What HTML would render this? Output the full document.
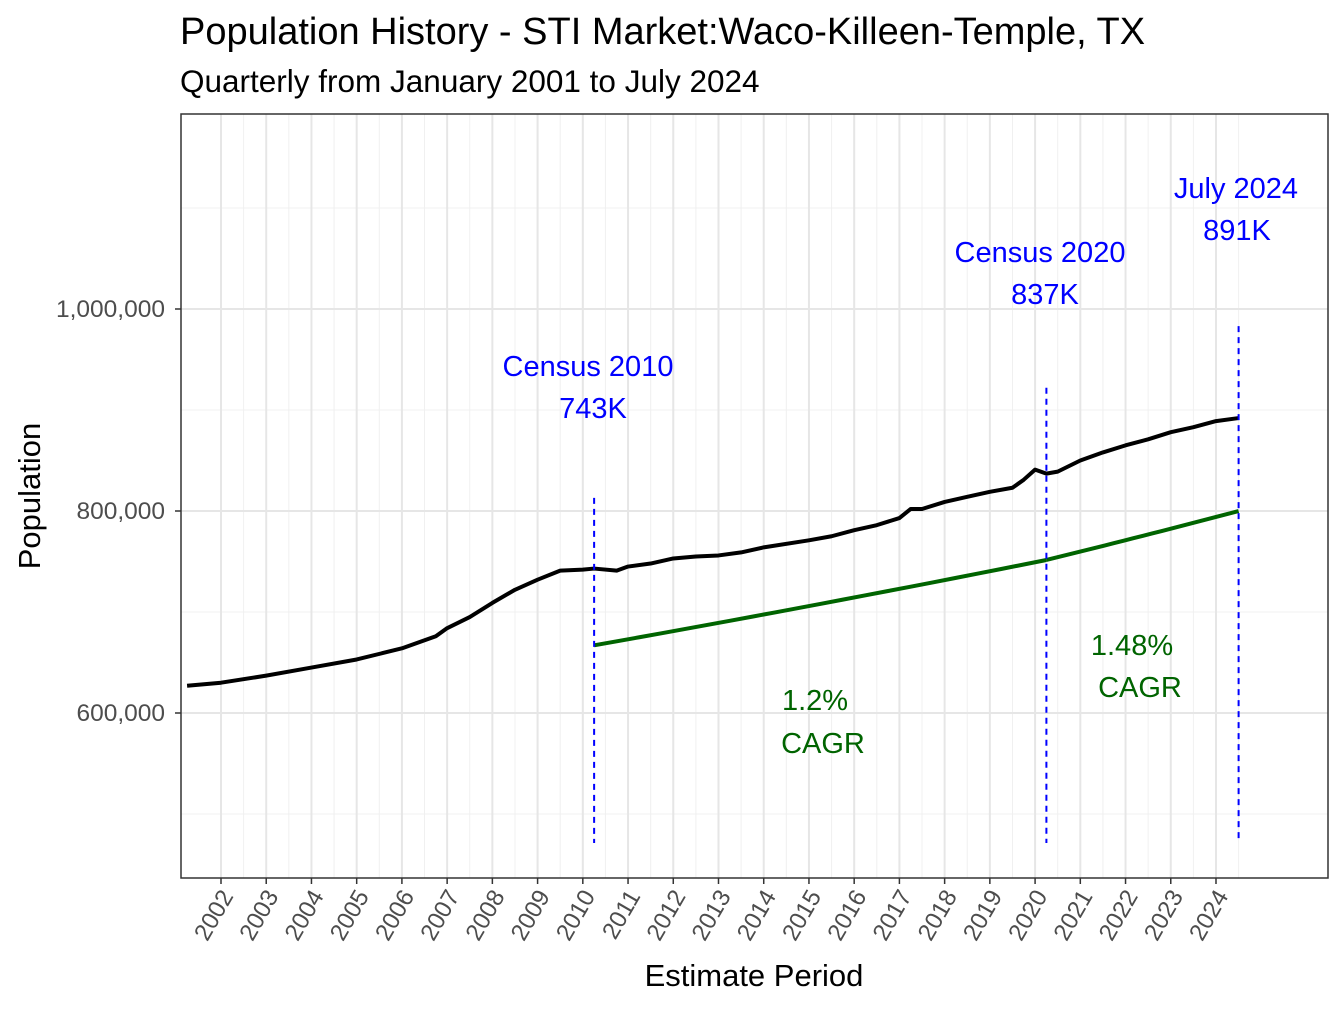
<!DOCTYPE html>
<html><head><meta charset="utf-8"><style>
body{margin:0;background:#fff;}
svg text{font-family:"Liberation Sans",Arial,sans-serif;}
</style></head><body>
<svg id="chart" width="1344" height="1008" xmlns="http://www.w3.org/2000/svg">
<text x="180" y="44" font-size="38" fill="#000">Population History - STI Market:Waco-Killeen-Temple, TX</text>
<text x="180" y="92" font-size="31.5" fill="#000">Quarterly from January 2001 to July 2024</text>
<g id="grid"></g>
<g id="marks"></g>
<rect x="181" y="114" width="1147" height="764" fill="none" stroke="#333" stroke-width="1.5"/>
<g id="axes"></g>
<text x="754" y="986" font-size="31" text-anchor="middle">Estimate Period</text>
<text transform="translate(40,496) rotate(-90)" font-size="31" text-anchor="middle">Population</text>
</svg>
<script>
const years=[2002,2003,2004,2005,2006,2007,2008,2009,2010,2011,2012,2013,2014,2015,2016,2017,2018,2019,2020,2021,2022,2023,2024];
const yTicks=[600000,800000,1000000];
const yTickLabels=["600,000","800,000","1,000,000"];
const yMinor=[500000,700000,900000,1100000];
const popTimes=[2001.25,2002,2003,2004,2005,2006,2006.75,2007,2007.5,2008,2008.5,2009,2009.5,2010,2010.25,2010.75,2011,2011.5,2012,2012.5,2013,2013.5,2014,2015,2015.5,2016,2016.5,2017,2017.25,2017.5,2018,2018.5,2019,2019.5,2019.75,2020,2020.25,2020.5,2021,2021.5,2022,2022.5,2023,2023.5,2024,2024.5];
const popValues=[627000,630000,637000,645000,653000,664000,676000,684000,695000,709000,722000,732000,741000,742000,743000,741000,745000,748000,753000,755000,756000,759000,764000,771000,775000,781000,786000,793000,802000,802000,809000,814000,819000,823000,831000,841000,837000,839000,850000,858000,865000,871000,878000,883000,889000,892000];
const cagrRates=[0.012,0.0148];
const cagrStartTimes=[2010.25,2020.25];
const cagrEndTimes=[2020.25,2024.5];
const cagrStartValue=667000;
const vlineTimes=[2010.25,2020.25,2024.5];
const vlineTops=[813000,922000,983000];
const NS="http://www.w3.org/2000/svg";
const X=t=>221+(t-2002)*45.227;
const Y=v=>511-(v-800000)*202/200000;
function mk(p,tag,attrs){const e=document.createElementNS(NS,tag);for(const k in attrs)e.setAttribute(k,attrs[k]);p.appendChild(e);return e;}
const grid=document.getElementById('grid'),marks=document.getElementById('marks'),axes=document.getElementById('axes');
yMinor.forEach(v=>{const l=mk(grid,'line',{x1:181,x2:1328,y1:Y(v),y2:Y(v),stroke:'#f0f0f0','stroke-width':1});

});
years.forEach(y=>{const l=mk(grid,'line',{x1:X(y+0.5),x2:X(y+0.5),y1:114,y2:878,stroke:'#f0f0f0','stroke-width':1});

});
yTicks.forEach((v,i)=>{const l=mk(grid,'line',{x1:181,x2:1328,y1:Y(v),y2:Y(v),stroke:'#e6e6e6','stroke-width':2});


const tk=mk(axes,'line',{x1:175,x2:181,y1:Y(v),y2:Y(v),stroke:'#333','stroke-width':1.5});


const t=mk(axes,'text',{x:165,y:Y(v)+8,'font-size':24.5,fill:'#4d4d4d','text-anchor':'end'});t.textContent=yTickLabels[i];

});
years.forEach(y=>{const l=mk(grid,'line',{x1:X(y),x2:X(y),y1:114,y2:878,stroke:'#e6e6e6','stroke-width':2});


const tk=mk(axes,'line',{x1:X(y),x2:X(y),y1:878,y2:884,stroke:'#333','stroke-width':1.5});


const t=mk(axes,'text',{transform:`translate(${X(y)+13},${896}) rotate(-60)`,'font-size':24,fill:'#4d4d4d','text-anchor':'end'});t.textContent=y;

});
const pl=mk(marks,'polyline',{points:popTimes.map((t,i)=>X(t)+','+Y(popValues[i])).join(' '),fill:'none',stroke:'#000','stroke-width':4,'stroke-linejoin':'round'});


let base=cagrStartValue;
cagrRates.forEach((r,i)=>{const pts=[];const t0=cagrStartTimes[i],t1=cagrEndTimes[i];
for(let k=0;k<=20;k++){const t=t0+(t1-t0)*k/20;pts.push(X(t)+','+Y(base*Math.pow(1+r,t-t0)));}
const c=mk(marks,'polyline',{points:pts.join(' '),fill:'none',stroke:'#006400','stroke-width':4});


base=base*Math.pow(1+r,t1-t0);});
vlineTimes.forEach((t,i)=>{const l=mk(marks,'line',{x1:X(t),x2:X(t),y1:Y(vlineTops[i]),y2:843,stroke:'#0000ff','stroke-width':2,'stroke-dasharray':'6,5'});

});
const labels=[["Census 2010",588,376,'#0000ff'],["743K",593,418,'#0000ff'],["Census 2020",1040,262,'#0000ff'],["837K",1045,304,'#0000ff'],["July 2024",1236,198,'#0000ff'],["891K",1237,240,'#0000ff'],["1.2%",815,710,'#006400'],["CAGR",823,753,'#006400'],["1.48%",1132,655,'#006400'],["CAGR",1140,697,'#006400']];
labels.forEach(a=>{const t=mk(marks,'text',{x:a[1],y:a[2],'font-size':29,fill:a[3],'text-anchor':'middle'});t.textContent=a[0];

});
</script>
</body></html>
